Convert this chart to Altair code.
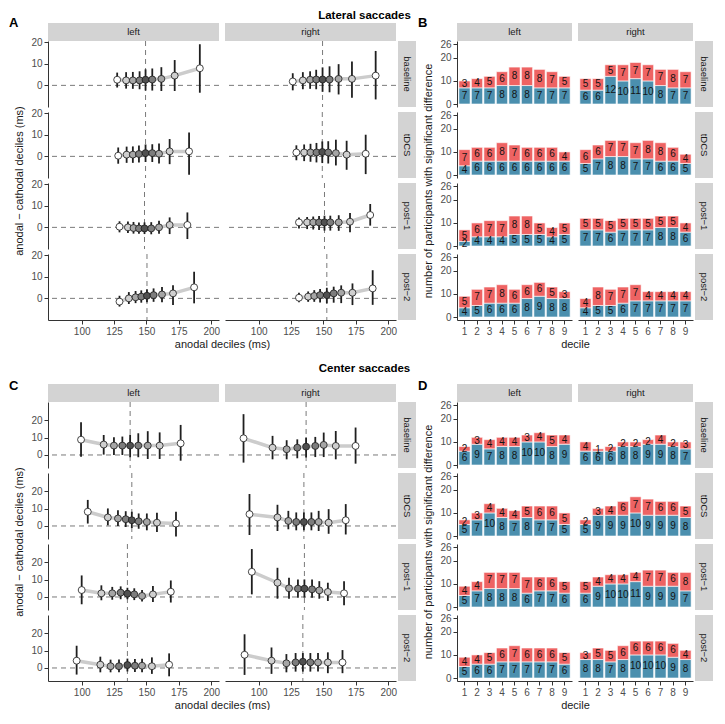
import altair as alt
import pandas as pd

FONT = "Liberation Sans"
SESSIONS = ["baseline", "tDCS", "post-1", "post-2"]
SESSION_LABELS = {"baseline": "baseline", "tDCS": "tDCS", "post-1": "post\u22121", "post-2": "post\u22122"}
SIDES = ["left", "right"]
DECILES = [1, 2, 3, 4, 5, 6, 7, 8, 9]

# ---------------- Panel A: lateral saccades (anodal decile vs anodal - cathodal) ----------------
lat_left_x = {
    "baseline": [127.4, 134.3, 139.5, 144.7, 149.3, 154.5, 161.5, 171.8, 191.2],
    "tDCS":     [128.2, 134.7, 139.5, 144.2, 149.3, 154.5, 159.7, 167.9, 182.9],
    "post-1":   [129.2, 135.7, 140.0, 144.2, 148.5, 153.7, 159.7, 167.9, 181.6],
    "post-2":   [129.2, 136.4, 141.6, 146.0, 150.4, 155.5, 162.0, 170.5, 186.8],
}
lat_left_y = {
    "baseline": [2.6, 2.3, 2.3, 2.3, 2.6, 2.7, 3.0, 4.5, 7.9],
    "tDCS":     [0.3, 0.8, 0.8, 1.1, 1.5, 1.5, 1.2, 2.3, 2.3],
    "post-1":   [0.3, 0.0, -0.3, -0.5, -0.5, -0.5, 0.0, 1.1, 1.1],
    "post-2":   [-1.5, 0.0, 0.5, 0.8, 1.2, 1.5, 1.8, 2.3, 5.1],
}
lat_left_lo = {
    "baseline": [-1.0, -1.5, -1.6, -1.8, -2.4, -2.4, -2.6, -2.6, -3.4],
    "tDCS":     [-3.4, -3.0, -3.0, -2.8, -2.6, -2.6, -3.3, -3.6, -8.5],
    "post-1":   [-2.3, -2.6, -2.9, -3.0, -3.1, -3.2, -3.0, -3.1, -5.4],
    "post-2":   [-3.8, -2.6, -2.2, -2.0, -1.8, -1.6, -1.8, -3.1, -2.3],
}
lat_left_hi = {
    "baseline": [5.9, 6.1, 6.2, 6.5, 7.4, 7.8, 8.4, 11.7, 19.0],
    "tDCS":     [4.1, 4.5, 4.6, 5.0, 5.5, 5.6, 6.0, 8.0, 11.0],
    "post-1":   [2.8, 2.7, 2.5, 2.3, 2.3, 2.4, 3.0, 4.6, 6.9],
    "post-2":   [1.2, 2.9, 3.4, 3.7, 4.2, 4.6, 5.2, 6.1, 12.3],
}
lat_right_x = {
    "baseline": [126.3, 134.1, 139.7, 144.4, 149.3, 154.7, 161.7, 172.0, 190.3],
    "tDCS":     [129.1, 135.1, 140.0, 144.6, 149.1, 153.7, 159.6, 167.9, 182.6],
    "post-1":   [131.1, 137.4, 142.1, 146.6, 150.8, 155.3, 161.8, 170.5, 186.1],
    "post-2":   [131.1, 138.2, 142.9, 147.4, 152.6, 157.9, 163.7, 172.4, 188.0],
}
lat_right_y = {
    "baseline": [1.8, 2.3, 2.6, 2.7, 2.7, 2.7, 3.0, 3.0, 4.5],
    "tDCS":     [1.8, 1.8, 1.8, 1.8, 2.0, 1.8, 1.5, 0.8, 1.2],
    "post-1":   [2.3, 2.3, 2.3, 2.3, 2.3, 2.3, 2.3, 2.6, 5.7],
    "post-2":   [0.3, 0.8, 1.1, 1.5, 1.5, 2.3, 2.6, 2.6, 4.6],
}
lat_right_lo = {
    "baseline": [-2.3, -1.8, -1.6, -1.8, -3.0, -3.2, -4.2, -5.7, -6.5],
    "tDCS":     [-1.8, -2.2, -2.5, -2.8, -3.1, -3.3, -4.2, -6.2, -8.2],
    "post-1":   [-0.5, -0.8, -1.0, -1.2, -1.5, -1.5, -1.6, -2.3, 0.8],
    "post-2":   [-1.8, -1.6, -1.6, -1.9, -2.3, -2.0, -2.2, -3.1, -3.0],
}
lat_right_hi = {
    "baseline": [5.6, 6.1, 6.5, 7.2, 8.3, 8.8, 9.8, 11.0, 15.9],
    "tDCS":     [5.1, 5.5, 5.8, 6.2, 6.9, 7.0, 7.7, 7.2, 10.0],
    "post-1":   [4.6, 4.8, 5.0, 5.2, 5.4, 5.4, 5.6, 6.6, 10.8],
    "post-2":   [2.6, 3.2, 3.8, 4.3, 4.9, 5.4, 6.0, 6.9, 13.0],
}

# ---------------- Panel C: center saccades ----------------
cen_left_x = {
    "baseline": [99.5, 117.0, 124.9, 131.4, 137.4, 143.7, 151.0, 160.2, 176.4],
    "tDCS":     [104.7, 120.2, 128.0, 134.0, 138.7, 144.0, 150.3, 158.1, 172.8],
    "post-1":   [100.0, 115.2, 123.6, 130.1, 135.3, 140.6, 146.6, 155.0, 168.8],
    "post-2":   [96.1, 114.4, 122.3, 128.8, 135.3, 141.1, 146.6, 154.2, 167.5],
}
cen_left_y = {
    "baseline": [8.8, 6.0, 5.4, 5.4, 5.4, 5.4, 5.4, 5.4, 6.7],
    "tDCS":     [8.2, 4.9, 4.3, 3.9, 3.3, 2.7, 2.3, 1.9, 1.4],
    "post-1":   [4.0, 2.1, 2.1, 2.5, 1.9, 1.5, 0.6, 1.5, 3.0],
    "post-2":   [4.2, 1.9, 1.0, 1.0, 1.7, 1.3, 1.3, 1.0, 1.9],
}
cen_left_lo = {
    "baseline": [-1.0, 0.2, 0.0, 0.0, -1.3, -1.3, -2.3, -2.3, -3.3],
    "tDCS":     [1.4, 0.4, 0.0, -0.6, -1.2, -1.6, -2.5, -3.5, -6.0],
    "post-1":   [-4.2, -1.9, -1.6, -1.3, -1.3, -1.8, -2.6, -2.9, -3.2],
    "post-2":   [-3.8, -2.5, -2.5, -2.4, -2.0, -2.3, -2.5, -3.4, -4.8],
}
cen_left_hi = {
    "baseline": [18.8, 11.5, 10.2, 10.6, 11.7, 12.5, 13.7, 13.0, 17.3],
    "tDCS":     [15.0, 10.1, 9.1, 8.5, 8.2, 7.2, 7.2, 7.6, 8.2],
    "post-1":   [12.4, 6.7, 5.8, 6.1, 5.3, 5.0, 4.0, 6.3, 9.5],
    "post-2":   [12.8, 6.5, 4.8, 4.9, 5.4, 5.1, 5.3, 6.1, 8.4],
}
cen_right_x = {
    "baseline": [88.3, 110.7, 121.6, 129.8, 136.6, 143.7, 150.2, 159.5, 174.8],
    "tDCS":     [92.9, 114.5, 122.9, 129.0, 134.9, 140.7, 146.3, 154.0, 167.2],
    "post-1":   [94.7, 114.5, 123.4, 130.3, 135.3, 141.2, 146.8, 153.4, 165.9],
    "post-2":   [89.1, 109.9, 121.4, 128.5, 134.1, 139.9, 145.8, 153.4, 164.7],
}
cen_right_y = {
    "baseline": [9.6, 4.2, 3.3, 4.2, 4.8, 5.2, 5.8, 5.2, 5.2],
    "tDCS":     [6.8, 4.9, 2.9, 2.3, 2.3, 2.3, 2.3, 1.9, 3.3],
    "post-1":   [14.5, 8.2, 5.0, 4.8, 4.8, 4.4, 3.8, 2.9, 2.1],
    "post-2":   [7.6, 4.2, 2.7, 3.2, 3.6, 3.2, 3.2, 3.2, 3.2],
}
cen_right_lo = {
    "baseline": [-4.4, -2.5, -2.5, -1.9, -1.5, -1.2, -1.2, -2.5, -5.0],
    "tDCS":     [-5.2, -2.9, -1.9, -2.5, -2.5, -2.5, -2.9, -4.5, -4.9],
    "post-1":   [1.5, -1.0, -1.0, -0.4, -0.4, -0.4, -1.0, -2.3, -4.8],
    "post-2":   [-4.0, -3.4, -2.5, -2.1, -2.1, -2.1, -2.1, -3.0, -3.0],
}
cen_right_hi = {
    "baseline": [23.5, 11.0, 8.5, 9.0, 10.0, 10.4, 12.9, 13.8, 15.8],
    "tDCS":     [18.4, 12.2, 8.7, 7.8, 7.8, 7.8, 8.7, 9.7, 12.6],
    "post-1":   [27.6, 16.8, 11.0, 10.1, 10.1, 10.1, 9.1, 8.2, 9.1],
    "post-2":   [19.4, 11.8, 8.0, 8.6, 8.6, 8.6, 8.6, 9.0, 10.3],
}

# ---------------- Panels B / D: number of participants with significant difference ----------------
lat_left_blue = {"baseline": [7, 7, 7, 8, 8, 8, 7, 7, 7], "tDCS": [4, 6, 6, 6, 6, 6, 6, 6, 6],
                 "post-1": [2, 4, 4, 4, 5, 5, 5, 4, 5], "post-2": [4, 5, 6, 6, 6, 8, 9, 8, 8]}
lat_left_red = {"baseline": [3, 4, 5, 6, 8, 8, 8, 7, 5], "tDCS": [7, 6, 6, 8, 7, 6, 6, 6, 4],
                "post-1": [5, 6, 7, 7, 8, 8, 5, 4, 5], "post-2": [5, 7, 7, 8, 6, 6, 6, 5, 3]}
lat_right_blue = {"baseline": [6, 6, 12, 10, 11, 10, 8, 7, 7], "tDCS": [5, 7, 8, 8, 7, 7, 6, 6, 5],
                  "post-1": [7, 7, 6, 7, 7, 7, 8, 8, 6], "post-2": [4, 5, 5, 6, 7, 7, 7, 7, 7]}
lat_right_red = {"baseline": [5, 5, 5, 7, 7, 7, 7, 8, 7], "tDCS": [6, 6, 7, 7, 7, 8, 8, 6, 4],
                 "post-1": [5, 5, 5, 5, 5, 5, 5, 5, 4], "post-2": [4, 8, 7, 7, 7, 4, 4, 4, 4]}
cen_left_blue = {"baseline": [6, 9, 7, 8, 8, 10, 10, 8, 9], "tDCS": [5, 7, 10, 8, 7, 8, 7, 7, 5],
                 "post-1": [5, 7, 8, 8, 8, 6, 7, 7, 6], "post-2": [5, 6, 6, 7, 7, 7, 7, 7, 6]}
cen_left_red = {"baseline": [2, 3, 4, 4, 4, 3, 4, 5, 4], "tDCS": [2, 3, 4, 4, 4, 5, 6, 6, 5],
                "post-1": [4, 4, 7, 7, 7, 7, 6, 6, 5], "post-2": [4, 4, 5, 6, 7, 6, 6, 6, 5]}
cen_right_blue = {"baseline": [6, 6, 6, 8, 8, 9, 9, 8, 7], "tDCS": [5, 9, 9, 9, 10, 9, 9, 9, 8],
                  "post-1": [6, 9, 10, 10, 11, 9, 9, 9, 7], "post-2": [8, 8, 7, 8, 10, 10, 10, 9, 8]}
cen_right_red = {"baseline": [4, 1, 2, 2, 2, 2, 4, 2, 3], "tDCS": [2, 3, 4, 6, 7, 7, 6, 6, 5],
                 "post-1": [5, 4, 4, 4, 4, 7, 7, 6, 8], "post-2": [3, 5, 5, 6, 6, 6, 6, 6, 4]}

Y_TICKS_MS = [0, 10, 20]
X_TICKS_MS = [100, 125, 150, 175, 200]
Y_TICKS_N = [0, 10, 20, 26]

# ---------------- style ----------------
DECILE_FILL = ["#ffffff", "#cfcfcf", "#a6a6a6", "#7d7d7d", "#505050", "#7d7d7d", "#a6a6a6", "#cfcfcf", "#ffffff"]
RED = "#ee6363"
BLUE = "#4b8fae"
STRIP = "#d3d3d3"

cw = [39, 171, 6, 171, 2, 18, 41, 115, 6, 115, 2, 18]
rh = [14, 18, 66, 5, 66, 5, 66, 5, 66, 64, 18, 66, 5, 66, 5, 66, 5, 66]
NROW, NCOL = len(rh), len(cw)
ROW_H, GAP = 66, 5
BLOCK_MID_FROM_ROW2 = (4 * ROW_H + 3 * GAP) / 2 - (ROW_H + GAP)

DUMMY = pd.DataFrame({"a": [0]})


def spacer(w, h):
    return alt.Chart(DUMMY).mark_point(opacity=0, size=1).encode(
        x=alt.value(0), y=alt.value(0)).properties(width=w, height=h)


def strip(label, w, h, vertical=False, title=None):
    df = pd.DataFrame({"label": [label]})
    ch = alt.Chart(df).mark_text(fontSize=9.5, color="#1a1a1a", font=FONT,
                                 angle=90 if vertical else 0).encode(text="label:N")
    props = dict(width=w, height=h, view=alt.ViewBackground(fill=STRIP, stroke=None))
    if title is not None:
        props["title"] = title
    return ch.properties(**props)


def make_y_axis(values, title=None, title_y=None):
    kw = dict(values=values, labelFlush=False, grid=False)
    if title:
        kw.update(title=title, titleX=-29, titleY=title_y, titleAngle=270,
                  titleBaseline="middle", titleAlign="center")
    else:
        kw["title"] = None
    return alt.Axis(**kw)


def make_x_axis(values=None, title=None, title_x=None):
    kw = dict(labelFlush=False, grid=False, labelAngle=0)
    if values is not None:
        kw["values"] = values
    if title:
        kw.update(title=title, titleX=title_x, titleY=24, titleBaseline="middle", titleAlign="center")
    else:
        kw["title"] = None
    return alt.Axis(**kw)


def scatter_cell(x, y, lo, hi, ydom, w, h, show_y, show_x, ytitle=None, xtitle=None, xtitle_x=None):
    df = pd.DataFrame({"decile": DECILES, "x": x, "y": y, "lo": lo, "hi": hi, "fill": DECILE_FILL})
    xs = alt.Scale(domain=[74, 206], nice=False, zero=False)
    ys = alt.Scale(domain=ydom, nice=False, zero=False)
    xa = make_x_axis(X_TICKS_MS, xtitle, xtitle_x) if show_x else None
    ya = make_y_axis(Y_TICKS_MS, ytitle, BLOCK_MID_FROM_ROW2) if show_y else None
    base = alt.Chart(df)
    zero = alt.Chart(pd.DataFrame({"zero": [0]})).mark_rule(
        color="#7a7a7a", strokeWidth=1, strokeDash=[5, 4]).encode(
        y=alt.Y("zero:Q", scale=ys, axis=ya))
    vline = base.transform_filter(alt.datum.decile == 5).mark_rule(
        color="#7a7a7a", strokeWidth=1, strokeDash=[5, 4]).encode(
        x=alt.X("x:Q", scale=xs, axis=xa))
    line = base.mark_line(color="#cccccc", strokeWidth=3.5).encode(
        x=alt.X("x:Q", scale=xs, axis=xa), y=alt.Y("y:Q", scale=ys, axis=ya))
    err = base.mark_rule(color="#1f1f1f", strokeWidth=1.8).encode(
        x=alt.X("x:Q", scale=xs, axis=xa), y=alt.Y("lo:Q", scale=ys, axis=ya), y2="hi:Q")
    pts = base.mark_point(shape="circle", filled=True, size=48, stroke="#1a1a1a",
                          strokeWidth=0.8, opacity=1).encode(
        x=alt.X("x:Q", scale=xs, axis=xa), y=alt.Y("y:Q", scale=ys, axis=ya),
        fill=alt.Fill("fill:N", scale=None))
    return alt.layer(zero, vline, line, err, pts).properties(width=w, height=h)


def bar_cell(blue, red, w, h, show_y, show_x, ytitle=None, xtitle=None, xtitle_x=None):
    rows = []
    for i, d in enumerate(DECILES):
        rows.append({"decile": d, "series": "blue", "n": blue[i], "y0": 0, "y1": blue[i]})
        rows.append({"decile": d, "series": "red", "n": red[i], "y0": blue[i], "y1": blue[i] + red[i]})
    df = pd.DataFrame(rows)
    df["mid"] = (df["y0"] + df["y1"]) / 2
    xs = alt.Scale(domain=DECILES, paddingInner=0.1, paddingOuter=0.15)
    ys = alt.Scale(domain=[-1.3, 27.3], nice=False, zero=False)
    xa = make_x_axis(None, xtitle, xtitle_x) if show_x else None
    ya = make_y_axis(Y_TICKS_N, ytitle, BLOCK_MID_FROM_ROW2) if show_y else None
    base = alt.Chart(df)
    bars = base.mark_bar(stroke="white", strokeWidth=0.6).encode(
        x=alt.X("decile:O", scale=xs, axis=xa),
        y=alt.Y("y0:Q", scale=ys, axis=ya), y2="y1:Q",
        color=alt.Color("series:N", scale=alt.Scale(domain=["blue", "red"], range=[BLUE, RED]), legend=None))
    labels = base.mark_text(fontSize=10, color="#141414", font=FONT).encode(
        x=alt.X("decile:O", scale=xs, axis=xa),
        y=alt.Y("mid:Q", scale=ys, axis=ya), text="n:Q")
    return alt.layer(bars, labels).properties(width=w, height=h)


def letter(t, dy):
    return alt.TitleParams(t, anchor="start", dx=-39, dy=dy, offset=0, baseline="middle",
                           fontSize=13, fontWeight="bold", font=FONT, color="black")


def heading(t, dy):
    return alt.TitleParams(t, anchor="middle", dx=54, dy=dy, offset=0, baseline="middle",
                           fontSize=11.5, fontWeight="bold", font=FONT, color="black")


scatter_data = {
    "lat": {"left": (lat_left_x, lat_left_y, lat_left_lo, lat_left_hi),
            "right": (lat_right_x, lat_right_y, lat_right_lo, lat_right_hi)},
    "cen": {"left": (cen_left_x, cen_left_y, cen_left_lo, cen_left_hi),
            "right": (cen_right_x, cen_right_y, cen_right_lo, cen_right_hi)},
}
bar_data = {
    "lat": {"left": (lat_left_blue, lat_left_red), "right": (lat_right_blue, lat_right_red)},
    "cen": {"left": (cen_left_blue, cen_left_red), "right": (cen_right_blue, cen_right_red)},
}

cells = [[None] * NCOL for _ in range(NROW)]


def place_half(strip_row, session_rows, key, ydom, lsc, lbar, letter_dy, head, head_dy):
    cells[strip_row][1] = strip("left", cw[1], rh[strip_row], title=letter(lsc, letter_dy))
    cells[strip_row][3] = strip("right", cw[3], rh[strip_row], title=heading(head, head_dy))
    cells[strip_row][7] = strip("left", cw[7], rh[strip_row], title=letter(lbar, letter_dy))
    cells[strip_row][9] = strip("right", cw[9], rh[strip_row])
    for i, s in enumerate(SESSIONS):
        r = session_rows[i]
        last = i == 3
        for side in SIDES:
            c = 1 if side == "left" else 3
            x, y, lo, hi = scatter_data[key][side]
            cells[r][c] = scatter_cell(
                x[s], y[s], lo[s], hi[s], ydom, cw[c], rh[r],
                show_y=(side == "left"), show_x=last,
                ytitle="anodal \u2212 cathodal deciles (ms)" if (side == "left" and i == 1) else None,
                xtitle="anodal deciles (ms)" if (side == "left" and last) else None,
                xtitle_x=(cw[1] + cw[2] + cw[3]) / 2)
            cb = 7 if side == "left" else 9
            blue, red = bar_data[key][side]
            cells[r][cb] = bar_cell(
                blue[s], red[s], cw[cb], rh[r],
                show_y=(side == "left"), show_x=last,
                ytitle="number of participants with significant difference" if (side == "left" and i == 1) else None,
                xtitle="decile" if (side == "left" and last) else None,
                xtitle_x=(cw[7] + cw[8] + cw[9]) / 2)
        cells[r][5] = strip(SESSION_LABELS[s], cw[5], rh[r], vertical=True)
        cells[r][11] = strip(SESSION_LABELS[s], cw[11], rh[r], vertical=True)


place_half(1, [2, 4, 6, 8], "lat", [-10, 20.5], "A", "B", 13, "Lateral saccades", 4)
place_half(10, [11, 13, 15, 17], "cen", [-7.5, 30.5], "C", "D", 15, "Center saccades", -4)

flat = []
for r in range(NROW):
    for c in range(NCOL):
        flat.append(cells[r][c] if cells[r][c] is not None else spacer(cw[c], rh[r]))

chart = alt.concat(*flat, columns=NCOL, spacing=0, bounds="flush", align="each").properties(padding=0)
chart = chart.configure(font=FONT).configure_view(stroke=None).configure_axis(
    domainColor="#333333", domainWidth=1, tickColor="#333333", tickWidth=1, tickSize=4,
    labelColor="#4d4d4d", labelFontSize=10, labelFont=FONT, labelPadding=2,
    titleFont=FONT, titleFontSize=11, titleFontWeight="normal", titleColor="#1a1a1a")

chart.save("out.html", embed_options={"renderer": "svg", "actions": False})
